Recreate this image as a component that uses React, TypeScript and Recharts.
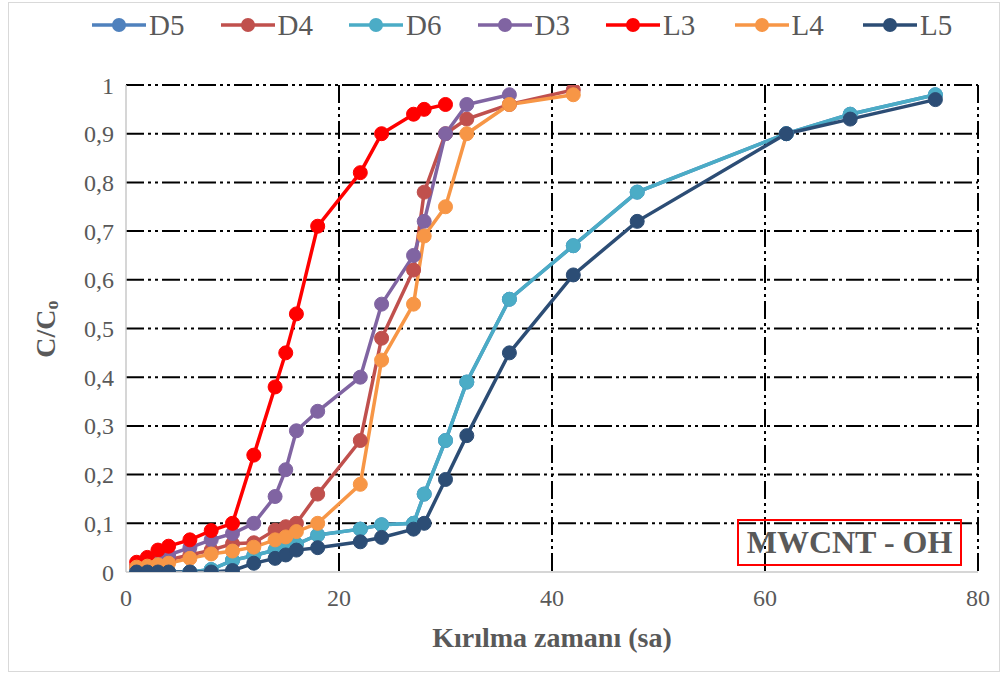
import React from 'react';
import { LineChart, Line, XAxis, YAxis, CartesianGrid } from 'recharts';

// Breakthrough times (hours) sampled for each run
const hoursL3 = [1, 2, 3, 4, 6, 8, 10, 12, 14, 15, 16, 18, 22, 24, 27, 28, 30];
const hoursD3 = [1, 2, 3, 4, 6, 8, 10, 12, 14, 15, 16, 18, 22, 24, 27, 28, 30, 32, 36];
const hoursMid = [1, 2, 3, 4, 6, 8, 10, 12, 14, 15, 16, 18, 22, 24, 27, 28, 30, 32, 36, 42];
const hoursLong = [1, 2, 3, 4, 6, 8, 10, 12, 14, 15, 16, 18, 22, 24, 27, 28, 30, 32, 36, 42, 48, 62, 68, 76];

// C/Co values per run
const valuesD5 = [0, 0, 0, 0, 0, 0.005, 0.024, 0.034, 0.045, 0.05, 0.057, 0.076, 0.088, 0.097, 0.1, 0.16, 0.27, 0.39, 0.56, 0.67, 0.78, 0.9, 0.94, 0.98];
const valuesD4 = [0.01, 0.015, 0.02, 0.025, 0.035, 0.045, 0.058, 0.06, 0.086, 0.093, 0.1, 0.16, 0.27, 0.48, 0.62, 0.78, 0.9, 0.93, 0.96, 0.99];
const valuesD6 = [0, 0, 0, 0, 0, 0.005, 0.024, 0.034, 0.045, 0.05, 0.057, 0.076, 0.088, 0.097, 0.1, 0.16, 0.27, 0.39, 0.56, 0.67, 0.78, 0.9, 0.94, 0.98];
const valuesD3 = [0.01, 0.02, 0.03, 0.035, 0.05, 0.066, 0.079, 0.1, 0.155, 0.21, 0.29, 0.33, 0.4, 0.55, 0.65, 0.72, 0.9, 0.96, 0.98];
const valuesL3 = [0.02, 0.03, 0.045, 0.053, 0.066, 0.085, 0.1, 0.24, 0.38, 0.45, 0.53, 0.71, 0.82, 0.9, 0.94, 0.95, 0.96];
const valuesL4 = [0.01, 0.012, 0.015, 0.018, 0.028, 0.037, 0.043, 0.051, 0.066, 0.072, 0.083, 0.1, 0.18, 0.435, 0.55, 0.69, 0.75, 0.9, 0.96, 0.98];
const valuesL5 = [0, 0, 0, 0, 0, 0, 0.003, 0.018, 0.028, 0.035, 0.045, 0.05, 0.062, 0.071, 0.088, 0.1, 0.19, 0.28, 0.45, 0.61, 0.72, 0.9, 0.93, 0.97];

const seriesNames = ['D5', 'D4', 'D6', 'D3', 'L3', 'L4', 'L5'];
const seriesColors = ['#4F81BD', '#C0504D', '#4BACC6', '#8064A2', '#FF0000', '#F79646', '#2C4D75'];
const seriesHours = [hoursLong, hoursMid, hoursLong, hoursD3, hoursL3, hoursMid, hoursLong];
const seriesValues = [valuesD5, valuesD4, valuesD6, valuesD3, valuesL3, valuesL4, valuesL5];

const xDomain = [0, 80];
const yDomain = [0, 1];
const xTicks = [0, 20, 40, 60, 80];
const yTicks = [0, 0.1, 0.2, 0.3, 0.4, 0.5, 0.6, 0.7, 0.8, 0.9, 1];

const xTitle = 'Kırılma zamanı (sa)';
const boxLabel = 'MWCNT - OH';

const FONT = 'Liberation Serif';
const TEXT = '#595959';
const GRID_DASH = '18 4 3 4 3 4';

const series = seriesNames.map((name, i) => ({
  name,
  color: seriesColors[i],
  data: seriesHours[i].map((h, j) => ({ x: h, y: seriesValues[i][j] })),
}));

const fmtY = (v: number) => String(v).replace('.', ',');

const YTitle = () => (
  <text
    x={45}
    y={329}
    transform="rotate(-90, 45, 329)"
    textAnchor="middle"
    dominantBaseline="central"
    fontWeight="bold"
    fontSize={28}
    fill={TEXT}
    style={{ fontFamily: FONT }}
  >
    C/C
    <tspan dy={7} fontSize={18}>o</tspan>
  </text>
);

const XTitle = () => (
  <text
    x={552}
    y={647}
    textAnchor="middle"
    fontWeight="bold"
    fontSize={28}
    fill={TEXT}
    style={{ fontFamily: FONT }}
  >
    {xTitle}
  </text>
);

const LegendRow = () => (
  <div
    style={{
      position: 'absolute',
      left: 92,
      top: 8,
      display: 'flex',
      fontFamily: FONT,
      fontSize: 29,
      color: TEXT,
      lineHeight: '34px',
    }}
  >
    {series.map((s) => (
      <div key={s.name} style={{ width: 128.5, display: 'flex', alignItems: 'center' }}>
        <svg width={54} height={18} style={{ display: 'block' }}>
          <line x1={0} y1={9} x2={54} y2={9} stroke={s.color} strokeWidth={3.5} />
          <circle cx={27} cy={9} r={7} fill={s.color} />
        </svg>
        <span style={{ marginLeft: 3 }}>{s.name}</span>
      </div>
    ))}
  </div>
);

// grid lines sit on the tick values, skipping the ones covered by the axes
const gridH = ({ offset }: any) =>
  yTicks
    .filter((v) => v > yDomain[0])
    .map((v) => offset.top + offset.height * (1 - (v - yDomain[0]) / (yDomain[1] - yDomain[0])));
const gridV = ({ offset }: any) =>
  xTicks
    .filter((v) => v > xDomain[0])
    .map((v) => offset.left + (offset.width * (v - xDomain[0])) / (xDomain[1] - xDomain[0]));

export default function App() {
  return (
    <div style={{ position: 'absolute', left: 0, top: 0, width: 1006, height: 679, background: '#fff', fontFamily: FONT }}>
      <div
        style={{
          position: 'absolute',
          left: 8,
          top: 2,
          width: 992,
          height: 670,
          border: '1px solid #D9D9D9',
          boxSizing: 'border-box',
        }}
      />
      <div style={{ position: 'absolute', left: 0, top: 0 }}>
        <LineChart width={1006} height={679} margin={{ top: 85, right: 28, bottom: 67, left: 66 }}>
          <CartesianGrid
            stroke="#000"
            strokeWidth={2}
            strokeDasharray={GRID_DASH}
            horizontalCoordinatesGenerator={gridH}
            verticalCoordinatesGenerator={gridV}
          />
          <XAxis
            type="number"
            dataKey="x"
            domain={xDomain}
            ticks={xTicks}
            height={40}
            axisLine={{ stroke: '#C8C8C8', strokeWidth: 1.5 }}
            tickLine={false}
            tickSize={6}
            tickMargin={11}
            tick={{ fill: TEXT, fontFamily: FONT, fontSize: 24 }}
            allowDataOverflow
            label={<XTitle />}
          />
          <YAxis
            type="number"
            dataKey="y"
            domain={yDomain}
            ticks={yTicks}
            width={60}
            axisLine={{ stroke: '#C8C8C8', strokeWidth: 1.5 }}
            tickLine={false}
            tickSize={6}
            tickMargin={6}
            tickFormatter={fmtY}
            tick={{ fill: TEXT, fontFamily: FONT, fontSize: 24 }}
            allowDataOverflow
            label={<YTitle />}
          />
          {series.map((s) => (
            <Line
              key={s.name}
              data={s.data}
              dataKey="y"
              name={s.name}
              type="linear"
              stroke={s.color}
              strokeWidth={3.5}
              dot={{ r: 7, fill: s.color, stroke: s.color, strokeWidth: 1 }}
              activeDot={false}
              isAnimationActive={false}
            />
          ))}
        </LineChart>
      </div>
      <LegendRow />
      <div
        style={{
          position: 'absolute',
          left: 737,
          top: 519,
          width: 225,
          height: 47,
          border: '2px solid #FF0000',
          boxSizing: 'border-box',
          display: 'flex',
          alignItems: 'center',
          justifyContent: 'center',
          fontFamily: FONT,
          fontWeight: 'bold',
          fontSize: 32,
          color: TEXT,
        }}
      >
        {boxLabel}
      </div>
    </div>
  );
}
